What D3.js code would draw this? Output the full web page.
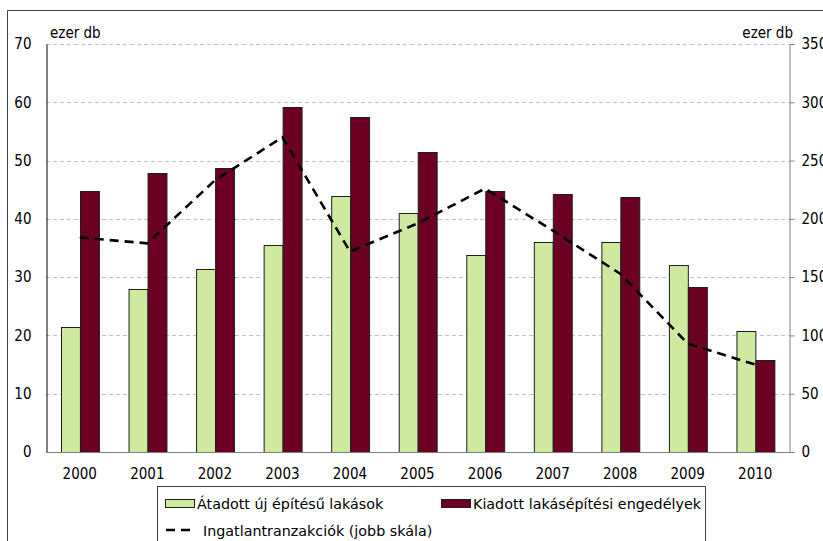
<!DOCTYPE html>
<html>
<head>
<meta charset="utf-8">
<script src="https://cdn.jsdelivr.net/npm/d3@7"></script>
<style>
  html, body { margin: 0; padding: 0; background: #fff; }
  svg { display: block; }
  text { font-family: "DejaVu Sans Condensed", "DejaVu Sans", sans-serif; font-size: 15px; fill: #000; }
  .legend text { font-family: "DejaVu Sans", sans-serif; font-size: 14.3px; }
</style>
</head>
<body>
<svg id="chart" width="823" height="541"></svg>
<script>
// Years on the category axis
const years = ["2000","2001","2002","2003","2004","2005","2006","2007","2008","2009","2010"];
// Completed new dwellings (thousand units, left scale)
const completed = [21.5, 27.9, 31.4, 35.5, 43.9, 41.0, 33.8, 36.0, 36.0, 32.0, 20.8];
// Building permits issued (thousand units, left scale)
const permits = [44.7, 47.8, 48.7, 59.2, 57.4, 51.5, 44.8, 44.2, 43.8, 28.3, 15.7];
// Real estate transactions (thousand, right scale)
const transactions = [184, 179, 233, 270, 172, 196, 226, 190, 153, 93, 75];

const leftTicks = [0, 10, 20, 30, 40, 50, 60, 70];
const rightTicks = [0, 50, 100, 150, 200, 250, 300, 350];

const seriesNames = {
  completed: "Átadott új építésű lakások",
  permits: "Kiadott lakásépítési engedélyek",
  transactions: "Ingatlantranzakciók (jobb skála)"
};
const unitLabel = "ezer db";

const colors = { completed: "#cfe9a1", permits: "#6b0022" };

const svg = d3.select("#chart");
const plot = { left: 46, right: 789, top: 44, bottom: 452 };

const x = d3.scaleBand().domain(years).range([plot.left, plot.right]).paddingInner(0).paddingOuter(0);
const inner = d3.scaleBand().domain(["completed", "permits"])
  .range([x.bandwidth() * 0.22, x.bandwidth() * 0.78]);
const yL = d3.scaleLinear().domain([0, 70]).range([plot.bottom, plot.top]);
const yR = d3.scaleLinear().domain([0, 350]).range([plot.bottom, plot.top]);

// outer frame (top and left edges)
svg.append("path")
  .attr("d", `M7.5,${541} V10.5 H823`)
  .attr("fill", "none").attr("stroke", "#404040").attr("stroke-width", 1);

// horizontal gridlines
svg.append("g").selectAll("line")
  .data(leftTicks.filter(d => d > 0))
  .join("line")
  .attr("x1", plot.left).attr("x2", plot.right)
  .attr("y1", d => Math.round(yL(d)) + 0.5).attr("y2", d => Math.round(yL(d)) + 0.5)
  .attr("stroke", "#c4c4c4").attr("stroke-width", 1).attr("stroke-dasharray", "4,3");

// bars
const groups = svg.append("g").selectAll("g")
  .data(years.map((yr, i) => ({ yr, completed: completed[i], permits: permits[i] })))
  .join("g")
  .attr("transform", d => `translate(${x(d.yr)},0)`);

groups.selectAll("rect")
  .data(d => ["completed", "permits"].map(k => ({ k, v: d[k] })))
  .join("rect")
  .attr("x", d => Math.round(inner(d.k)) + 0.5)
  .attr("width", inner.bandwidth())
  .attr("y", d => Math.round(yL(d.v)) + 0.5)
  .attr("height", d => plot.bottom - Math.round(yL(d.v)))
  .attr("fill", d => colors[d.k])
  .attr("stroke", "#1e1e1e").attr("stroke-width", 1);

// transactions line (right scale)
const line = d3.line()
  .x((d, i) => x(years[i]) + x.bandwidth() / 2)
  .y(d => yR(d));
svg.append("path")
  .datum(transactions)
  .attr("d", line)
  .attr("fill", "none").attr("stroke", "#000")
  .attr("stroke-width", 2.6).attr("stroke-dasharray", "9,6");

// left axis
const axL = svg.append("g").attr("transform", `translate(${plot.left + 0.5},0)`)
  .call(d3.axisLeft(yL).tickValues(leftTicks).tickSize(0).tickPadding(15));
axL.select(".domain").attr("stroke", "#000");
axL.selectAll("text").style("font-size", "15px").attr("font-family", null);

// right axis
const axR = svg.append("g").attr("transform", `translate(${plot.right + 0.5},0)`)
  .call(d3.axisRight(yR).tickValues(rightTicks).tickSize(5).tickPadding(7));
axR.select(".domain").attr("stroke", "#808080");
axR.selectAll(".tick line").attr("stroke", "#808080");
axR.selectAll("text").style("font-size", "15px").attr("font-family", null);

// bottom axis
const axB = svg.append("g").attr("transform", `translate(0,${plot.bottom + 0.5})`)
  .call(d3.axisBottom(x).tickSize(0).tickPadding(16));
axB.select(".domain").attr("stroke", "#808080").attr("d", `M${plot.left},0H${plot.right + 5}`);
axB.selectAll("text").style("font-size", "15px").attr("font-family", null);

// unit labels
svg.append("text").attr("x", 50).attr("y", 38).text(unitLabel);
svg.append("text").attr("x", 793).attr("y", 38).attr("text-anchor", "end").text(unitLabel);

// legend
const lg = svg.append("g").attr("class", "legend");
lg.append("rect").attr("x", 157.5).attr("y", 486.5).attr("width", 548).attr("height", 60)
  .attr("fill", "#fff").attr("stroke", "#404040").attr("stroke-width", 1);
lg.append("rect").attr("x", 165.5).attr("y", 499.5).attr("width", 29).attr("height", 8)
  .attr("fill", colors.completed).attr("stroke", "#1e1e1e");
lg.append("text").attr("x", 197).attr("y", 509).text(seriesNames.completed);
lg.append("rect").attr("x", 441.5).attr("y", 499.5).attr("width", 29).attr("height", 8)
  .attr("fill", colors.permits).attr("stroke", "#1e1e1e");
lg.append("text").attr("x", 473).attr("y", 509).text(seriesNames.permits);
lg.append("line").attr("x1", 166).attr("x2", 196).attr("y1", 530).attr("y2", 530)
  .attr("stroke", "#000").attr("stroke-width", 2.6).attr("stroke-dasharray", "9,6");
lg.append("text").attr("x", 203).attr("y", 536).text(seriesNames.transactions);
</script>
</body>
</html>
